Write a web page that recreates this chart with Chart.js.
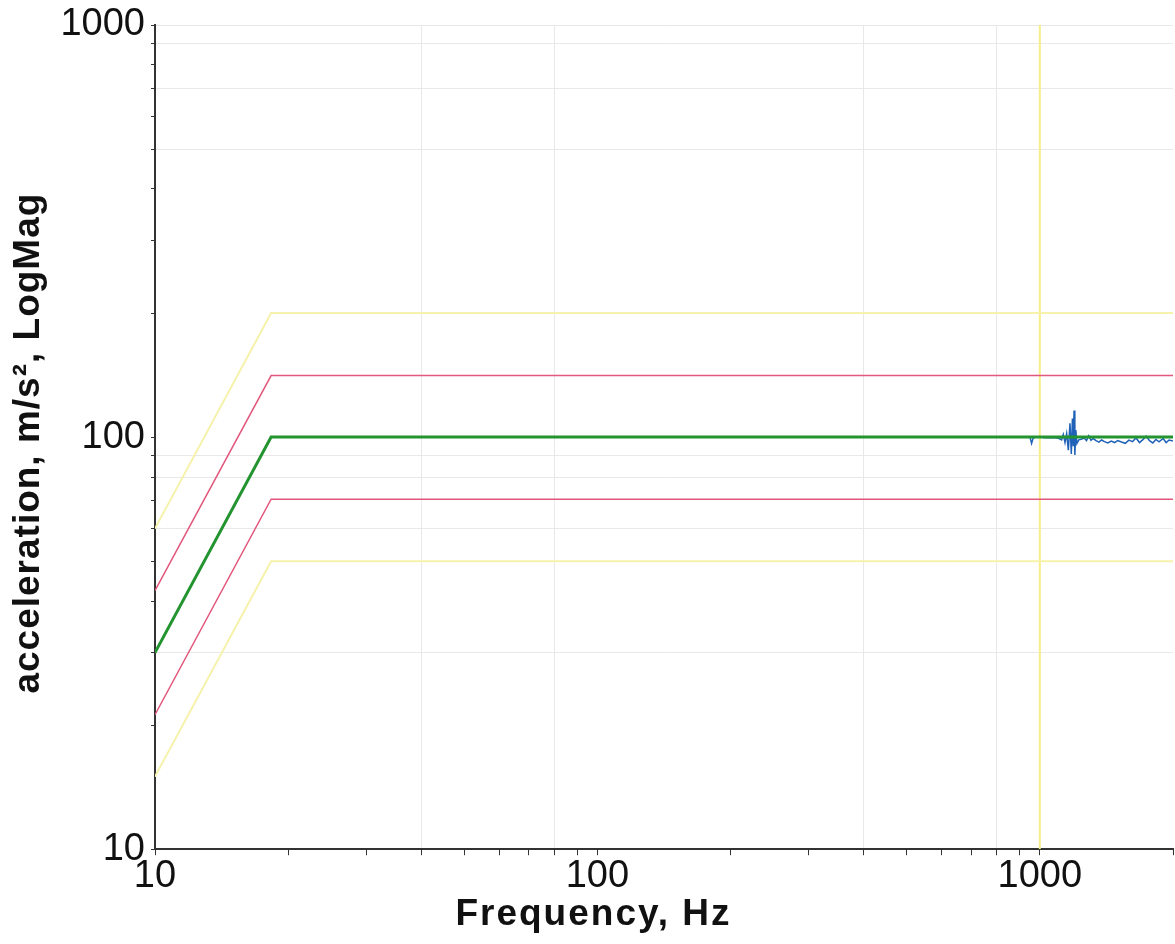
<!DOCTYPE html>
<html>
<head>
<meta charset="utf-8">
<script src="https://cdn.jsdelivr.net/npm/chart.js@4/dist/chart.umd.min.js"></script>
<style>
  html, body { margin: 0; padding: 0; background: #ffffff; }
  canvas { display: block; }
</style>
</head>
<body>
<canvas id="chart" width="1175" height="944"></canvas>
<script>
// Sine profile: constant displacement below the crossover, constant acceleration above it
const profileFreq   = [10, 18.3, 2000];
const referenceMag  = [30, 100, 100];
const alarmHighMag  = [42.4, 141, 141];
const alarmLowMag   = [21.2, 70.7, 70.7];
const abortHighMag  = [60, 200, 200];
const abortLowMag   = [15, 50, 50];

// Vertical marker at 1000 Hz
const markerFreq = [1000, 1000];
const markerMag  = [10, 1000];

// Measured control trace
const controlFreq = [10, 18.3, 950, 958, 966, 980, 1000, 1030, 1060, 1100, 1120, 1130, 1140, 1150,
  1160, 1170, 1178, 1185, 1190, 1195, 1200, 1206, 1213, 1225, 1240, 1260, 1275, 1290, 1305,
  1320, 1340, 1360, 1380, 1400, 1425, 1450, 1475, 1500, 1530, 1560, 1590, 1620, 1650, 1680,
  1710, 1740, 1770, 1800, 1830, 1860, 1900, 1930, 1960, 2000];
const controlMag = [30, 100, 100, 96.5, 99.5, 100, 100, 99.6, 99.8, 99.5, 98.5, 101.5, 97, 102,
  93, 108, 91, 111, 95, 116, 90.5, 104, 96.5, 98.5, 98.8, 99.5, 98, 100.8, 98.2,
  99.2, 98, 97.2, 98.4, 97.5, 96.8, 97.8, 97, 98.1, 97.3, 96.6, 98.3, 97.5, 99.5, 97,
  98.6, 100.5, 98, 96.8, 98.7, 97.4, 99.2, 97, 98.4, 97.8];

// Axis ticks, labels and grid positions
const xTickValues  = [10, 20, 30, 40, 50, 60, 70, 80, 90, 100, 200, 300, 400, 500, 600, 700, 800, 900, 1000, 2000];
const yTickValues  = [10, 20, 30, 40, 50, 60, 70, 80, 90, 100, 200, 300, 400, 500, 600, 700, 800, 900, 1000];
const xLabelValues = [10, 100, 1000];
const yLabelValues = [10, 100, 1000];
const xGridValues  = [40, 80, 400, 800];
const yGridValues  = [30, 60, 80, 90, 500, 700, 900, 1000];

const pts = (xs, ys) => xs.map((x, i) => ({ x: x, y: ys[i] }));

const line = (label, xs, ys, color, width, order) => ({
  label: label,
  data: pts(xs, ys),
  borderColor: color,
  borderWidth: width,
  pointRadius: 0,
  fill: false,
  tension: 0,
  order: order
});

const tickFont = { family: 'Liberation Sans, Arial, sans-serif', size: 38, lineHeight: 1 };
const titleFont = { family: 'Liberation Sans, Arial, sans-serif', size: 37, weight: 'bold' };

// Wraps a draw function so its text is drawn letter-spaced and nudged by (dx, dy)
function withSpacing(fn, spacing, dx, dy) {
  return function () {
    const ctx = this.ctx;
    ctx.save();
    ctx.letterSpacing = spacing;
    ctx.translate(dx, dy);
    fn.apply(this, arguments);
    ctx.restore();
  };
}

const spacedTitles = {
  id: 'spacedTitles',
  beforeDraw(chart) {
    if (chart.$spaced) return;
    chart.$spaced = true;
    if (chart.titleBlock) chart.titleBlock.draw = withSpacing(chart.titleBlock.draw, '2px', 7, 0);
    const y = chart.scales.y;
    y.drawTitle = withSpacing(y.drawTitle, '1px', 0, 6);
  }
};

new Chart(document.getElementById('chart'), {
  type: 'line',
  plugins: [spacedTitles],
  data: {
    datasets: [
      line('Reference', profileFreq, referenceMag, '#23942f', 3, 1),
      line('Control', controlFreq, controlMag, '#1f62b8', 1.5, 2),
      line('Alarm high', profileFreq, alarmHighMag, '#e2577c', 1.5, 3),
      line('Alarm low', profileFreq, alarmLowMag, '#e2577c', 1.5, 3),
      line('Abort high', profileFreq, abortHighMag, '#f6f2ab', 2, 4),
      line('Abort low', profileFreq, abortLowMag, '#f6f2ab', 2, 4),
      line('1000 Hz', markerFreq, markerMag, '#f6ee88', 2, 5)
    ]
  },
  options: {
    responsive: false,
    animation: false,
    layout: { padding: { left: 0, right: 2, top: 22, bottom: 0 } },
    plugins: {
      legend: { display: false },
      tooltip: { enabled: false },
      title: {
        display: true,
        position: 'bottom',
        text: 'Frequency, Hz',
        color: '#111111',
        font: titleFont,
        padding: { top: 0, bottom: 7 }
      }
    },
    scales: {
      x: {
        type: 'logarithmic',
        min: 10,
        max: 2000,
        afterBuildTicks: s => { s.ticks = xTickValues.map(v => ({ value: v })); },
        afterFit: s => { s.height = 43.4; },
        ticks: {
          autoSkip: false,
          maxRotation: 0,
          padding: 2,
          color: '#111111',
          font: tickFont,
          callback: v => xLabelValues.includes(v) ? String(v) : ''
        },
        grid: {
          color: ctx => (ctx.tick && xGridValues.includes(ctx.tick.value)) ? '#e8e8e8' : 'rgba(0,0,0,0)',
          tickColor: '#333333',
          tickLength: 6,
          lineWidth: 1
        },
        border: { color: '#333333', width: 2 }
      },
      y: {
        type: 'logarithmic',
        min: 10,
        max: 1000,
        afterBuildTicks: s => { s.ticks = yTickValues.map(v => ({ value: v })); },
        afterFit: s => { s.width = 155; },
        ticks: {
          autoSkip: false,
          padding: 6,
          color: '#111111',
          font: tickFont,
          callback: v => yLabelValues.includes(v) ? String(v) : ''
        },
        grid: {
          color: ctx => (ctx.tick && yGridValues.includes(ctx.tick.value)) ? '#e8e8e8' : 'rgba(0,0,0,0)',
          tickColor: '#333333',
          tickLength: 4,
          lineWidth: 1
        },
        border: { color: '#333333', width: 2 },
        title: {
          display: true,
          text: 'acceleration, m/s², LogMag',
          color: '#111111',
          font: titleFont,
          padding: { top: 7, bottom: 0 }
        }
      }
    }
  }
});
</script>
</body>
</html>
